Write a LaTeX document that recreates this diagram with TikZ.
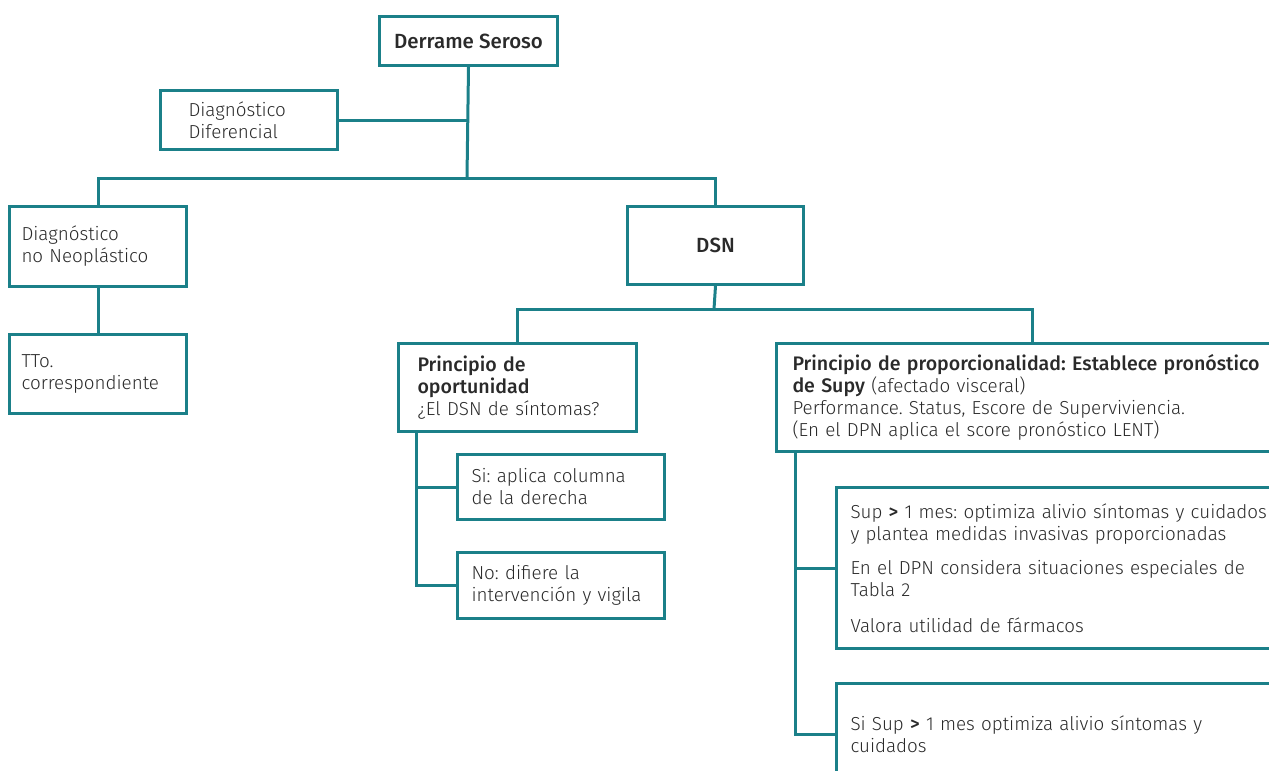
\documentclass[tikz,border=0pt]{standalone}
\usepackage{fontspec}
\setmainfont{Fira Sans Light}[BoldFont={Fira Sans Medium}]
\frenchspacing
\definecolor{frame}{HTML}{1B8089}
\definecolor{ink}{HTML}{2A2A2A}
\tikzset{
  box/.style={draw=frame, line width=3pt, fill=white, text=ink, anchor=north west,
    align=left, inner ysep=0pt, font=\fontsize{18.8}{22}\selectfont},
  title/.style={box, align=center, font=\fontsize{20.5}{24}\selectfont},
  link/.style={draw=frame, line width=3pt},
}
\newcommand{\boxat}[7]{% name, x1, y1, x2, y2, xsep, text
  \node[box, minimum width={#4-#2}, minimum height={#5-#3}, inner xsep=#6,
        text width={#4-#2-2*#6}] (#1) at (#2,#3) {#7};}
\newcommand{\hd}[1]{{\fontsize{19.6}{22}\selectfont\textbf{#1}}}
\begin{document}
\begin{tikzpicture}[x=1pt, y=-1pt]
  \clip (0,0) rectangle (1269,771);
  \useasboundingbox (0,0) rectangle (1269,771);

  % top level
  \node[title, minimum width=178pt, minimum height=49pt] (ds) at (378,15)
    {\textbf{Derrame Seroso}};
  \boxat{dd}{159}{89}{336}{148}{28pt}{Diagnóstico\\Diferencial}

  % second level
  \boxat{dnn}{8}{205}{185}{285}{12pt}{Diagnóstico\\no Neoplástico}
  \node[title, minimum width=176pt, minimum height=78pt] (dsn) at (626,205)
    {\textbf{DSN}};
  \boxat{tto}{8}{333}{185}{412}{12pt}{TTo.\\correspondiente}

  % DSN branches
  \boxat{po}{397}{342}{635}{430}{19pt}{\hd{Principio de}\\\hd{oportunidad}\\¿El DSN de síntomas?}
  \boxat{si}{456}{453}{663}{518}{14pt}{Si: aplica columna\\de la derecha}
  \boxat{no}{456}{551}{663}{617}{14pt}{No: difiere la\\intervención y vigila}

  \boxat{pp}{775}{342}{1295}{450}{16pt}{\hd{Principio de proporcionalidad: Establece pronóstico}\\\hd{de Supy} (afectado visceral)\\Performance. Status, Escore de Superviviencia.\\(En el DPN aplica el score pronóstico LENT)}
  \boxat{sup}{835}{486}{1295}{647}{14pt}{Sup \textbf{>} 1 mes: optimiza alivio síntomas y cuidados\\y plantea medidas invasivas proporcionadas\\[12pt]En el DPN considera situaciones especiales de\\Tabla 2\\[14pt]Valora utilidad de fármacos}
  \boxat{last}{835}{682}{1295}{784}{14pt}{Si Sup \textbf{>} 1 mes optimiza alivio síntomas y\\cuidados\\[-8pt]}

  % connectors
  \coordinate (bus1) at (467,178);
  \coordinate (bus2) at (714,309);
  \coordinate (ppin) at (1032,342);
  \draw[link] (ds.south) -- (bus1);
  \draw[link] (dd.east) -- (dd.east -| ds.south);
  \draw[link] (dnn.north) |- (bus1) -| (dsn.north);
  \draw[link] (dnn.south) -- (tto.north);
  \draw[link] (dsn.south) -- (bus2);
  \draw[link] (po.north) |- (bus2) -| (ppin);
  \draw[link] ([xshift=19pt]po.south west) |- (si.west);
  \draw[link] ([xshift=19pt]po.south west) |- (no.west);
  \draw[link] ([xshift=20pt]pp.south west) |- (sup.west);
  \draw[link] ([xshift=20pt]pp.south west) |- (last.west);
\end{tikzpicture}
\end{document}
